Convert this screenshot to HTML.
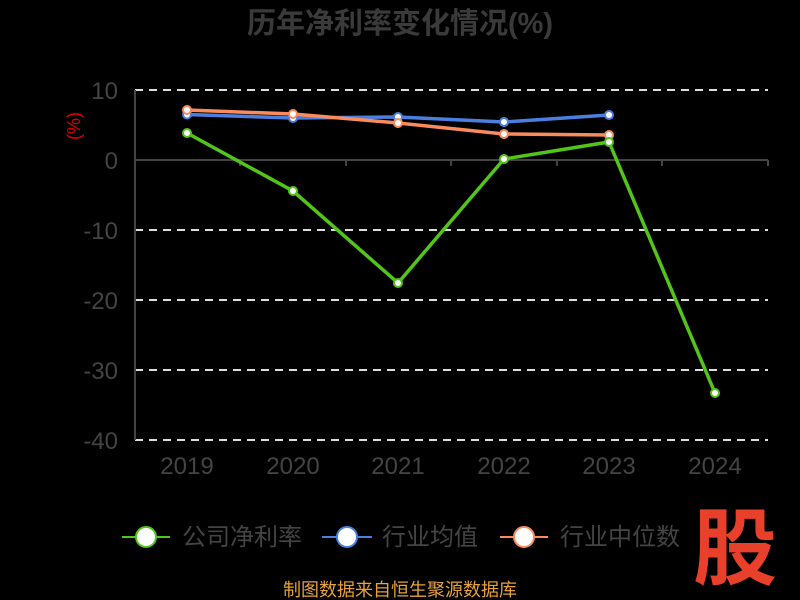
<!DOCTYPE html>
<html><head><meta charset="utf-8"><style>
html,body{margin:0;padding:0;background:#000;width:800px;height:600px;overflow:hidden}
text{font-family:"Liberation Sans","Noto Sans CJK SC",sans-serif}
</style></head><body>
<svg width="800" height="600" xmlns="http://www.w3.org/2000/svg">
<rect width="800" height="600" fill="#000"/>
<text x="400" y="33" text-anchor="middle" font-size="29" font-weight="bold" fill="#3a3a3a">历年净利率变化情况(%)</text>
<text x="80" y="126" text-anchor="middle" font-size="18" fill="#d00" transform="rotate(-90 80 126)">(%)</text>
<g stroke="#ddd" stroke-width="2" stroke-dasharray="8,6">
<line x1="135" y1="90" x2="768" y2="90"/><line x1="135" y1="230" x2="768" y2="230"/>
<line x1="135" y1="300" x2="768" y2="300"/><line x1="135" y1="370" x2="768" y2="370"/>
<line x1="135" y1="440" x2="768" y2="440"/></g>
<g stroke="#444" stroke-width="2"><line x1="135" y1="90" x2="135" y2="440"/><line x1="135" y1="160" x2="768" y2="160"/>
<line x1="240" y1="160" x2="240" y2="166"/><line x1="346" y1="160" x2="346" y2="166"/><line x1="451" y1="160" x2="451" y2="166"/><line x1="557" y1="160" x2="557" y2="166"/><line x1="662" y1="160" x2="662" y2="166"/><line x1="768" y1="160" x2="768" y2="166"/></g>
<g font-size="24" fill="#444" text-anchor="end">
<text x="118" y="99">10</text><text x="118" y="169">0</text><text x="118" y="239">-10</text><text x="118" y="309">-20</text><text x="118" y="379">-30</text><text x="118" y="449">-40</text></g>
<g font-size="24" fill="#444" text-anchor="middle">
<text x="187" y="474">2019</text><text x="293" y="474">2020</text><text x="398" y="474">2021</text><text x="504" y="474">2022</text><text x="609" y="474">2023</text><text x="715" y="474">2024</text></g>
<g fill="#fff" stroke-width="2">
<polyline fill="none" stroke="#4a7fe0" stroke-width="3.5" points="187,114.5 293,118 398,117 504,122 609,115"/>
<g stroke="#4a7fe0"><circle cx="187" cy="114.5" r="4"/><circle cx="293" cy="118" r="4"/><circle cx="398" cy="117" r="4"/><circle cx="504" cy="122" r="4"/><circle cx="609" cy="115" r="4"/></g>
<polyline fill="none" stroke="#fb8a5c" stroke-width="3.5" points="187,110 293,114 398,123 504,134 609,135"/>
<g stroke="#fb8a5c"><circle cx="187" cy="110" r="4"/><circle cx="293" cy="114" r="4"/><circle cx="398" cy="123" r="4"/><circle cx="504" cy="134" r="4"/><circle cx="609" cy="135" r="4"/></g>
<polyline fill="none" stroke="#52c41a" stroke-width="3.5" points="187,133 293,191 398,283 504,159 609,142 715,393"/>
<g stroke="#52c41a"><circle cx="187" cy="133" r="4"/><circle cx="293" cy="191" r="4"/><circle cx="398" cy="283" r="4"/><circle cx="504" cy="159" r="4"/><circle cx="609" cy="142" r="4"/><circle cx="715" cy="393" r="4"/></g>
</g>
<g font-size="24" fill="#444">
<line x1="122" y1="537" x2="170" y2="537" stroke="#52c41a" stroke-width="2"/><circle cx="146" cy="537" r="10" fill="#fff" stroke="#52c41a" stroke-width="2"/><text x="182" y="545">公司净利率</text>
<line x1="322" y1="537" x2="372" y2="537" stroke="#4a7fe0" stroke-width="2"/><circle cx="347" cy="537" r="10" fill="#fff" stroke="#4a7fe0" stroke-width="2"/><text x="382" y="545">行业均值</text>
<line x1="500" y1="537" x2="548" y2="537" stroke="#fb8a5c" stroke-width="2"/><circle cx="524" cy="537" r="10" fill="#fff" stroke="#fb8a5c" stroke-width="2"/><text x="560" y="545">行业中位数</text>
</g>
<text x="735" y="578" text-anchor="middle" font-size="84" font-weight="bold" fill="#e8402a">股</text>
<text x="400" y="596" text-anchor="middle" font-size="18" fill="#e6a23c">制图数据来自恒生聚源数据库</text>
</svg>
</body></html>
